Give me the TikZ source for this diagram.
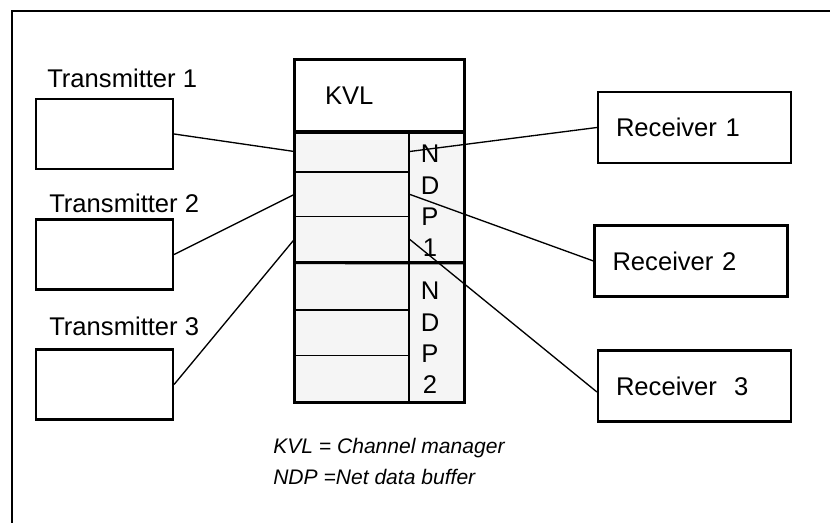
\documentclass[tikz,border=0pt]{standalone}
\usepackage{fontspec}
\setmainfont{Liberation Sans}
\usepackage{tikz}
\usetikzlibrary{shapes,arrows}
\definecolor{cellgray}{HTML}{F5F5F5}

\begin{document}
\begin{tikzpicture}[x=0.75pt, y=-0.75pt]
		\tikzstyle{every node}=[font=\fontsize{19.2}{23.5}\selectfont];
		\tikzstyle{txbox}=[draw, line width=1.6pt, minimum width=102.75pt, minimum height=52.5pt, inner sep=0pt];
		\tikzstyle{rxbox}=[draw, line width=1.6pt, text width=117.75pt, inner xsep=13.5pt, minimum height=53.25pt, align=left];
		\tikzstyle{cell}=[draw, line width=1pt, fill=cellgray, minimum width=85.5pt, inner sep=0pt];
		\tikzstyle{ndpbox}=[draw, line width=1.2pt, fill=cellgray, minimum width=41.25pt, inner sep=0pt];
		\tikzstyle{txname}=[anchor=base west, inner sep=0pt];
		\tikzstyle{legend}=[anchor=base west, inner sep=0pt, font=\fontsize{15.8}{18}\selectfont\itshape];
		\tikzstyle{wire}=[line width=1pt];
		\useasboundingbox (0,0) rectangle (830,523);
		\draw[line width=1.7pt] (12,530) -- (12,11) -- (840,11);
		% transmitters
		\node[txbox] (t1) at (104.5,134) {};
		\node[txbox] (t2) at (104.5,254.5) {};
		\node[txbox] (t3) at (104.5,384.5) {};
		\node[txname] (t1name) at (47,88) {Transmitter 1};
		\node[txname] (t2name) at (49,213) {Transmitter 2};
		\node[txname] (t3name) at (49,335) {Transmitter 3};
		% channel manager and buffers
		\node[draw, line width=1.6pt, fill=white, minimum width=126.75pt, minimum height=53.25pt, text width=81.75pt, inner xsep=22.5pt, align=left] (kvl) at (379.5,95.5) {KVL};
		\node[cell, minimum height=30.75pt] (c1) at (352,151.5) {};
		\node[cell, minimum height=33.5pt] (c2) at (352,194.35) {};
		\node[cell, minimum height=34pt] (c3) at (352,239.35) {};
		\node[cell, minimum height=36pt] (c4) at (352,286) {};
		\node[cell, minimum height=34.25pt] (c5) at (352,332.85) {};
		\node[cell, minimum height=34.5pt] (c6) at (352,378.7) {};
		\node[ndpbox, minimum height=98.25pt] (ndp1) at (436.5,196.5) {};
		\node[ndpbox, minimum height=104.75pt] (ndp2) at (436.5,331.85) {};
		\node[align=center, inner sep=0pt] (ndp1name) at (430,201) {N\\D\\P\\1};
		\node[align=center, inner sep=0pt] (ndp2name) at (430,338) {N\\D\\P\\2};
		\draw[line width=2.3pt] (kvl.south west) -- (kvl.south east);
		\draw[line width=2.3pt] (c3.south west) -- (ndp1.south east);
		\draw[line width=1.7pt] (kvl.north west) rectangle (ndp2.south east);
		% receivers
		\node[rxbox] (r1) at (694.5,127.5) {Receiver 1};
		\node[rxbox] (r2) at (691,261) {Receiver 2};
		\node[rxbox] (r3) at (694.5,386) {Receiver~~3};
		% connections
		\draw[wire] (t1.east) -- (c1.west);
		\draw[wire] (t2.east) -- (c2.west);
		\draw[wire] (t3.east) -- (c3.west);
		\draw[wire] (c1.east) -- (r1.west);
		\draw[wire] (c2.east) -- (r2.west);
		\draw[wire] (c3.east) -- ([yshift=-4.5pt]r3.west);
		% legend
		\node[legend] (kvlnote) at (273,453) {KVL = Channel manager};
		\node[legend] (ndpnote) at (273,484) {NDP =Net data buffer};
	\end{tikzpicture}
\end{document}
